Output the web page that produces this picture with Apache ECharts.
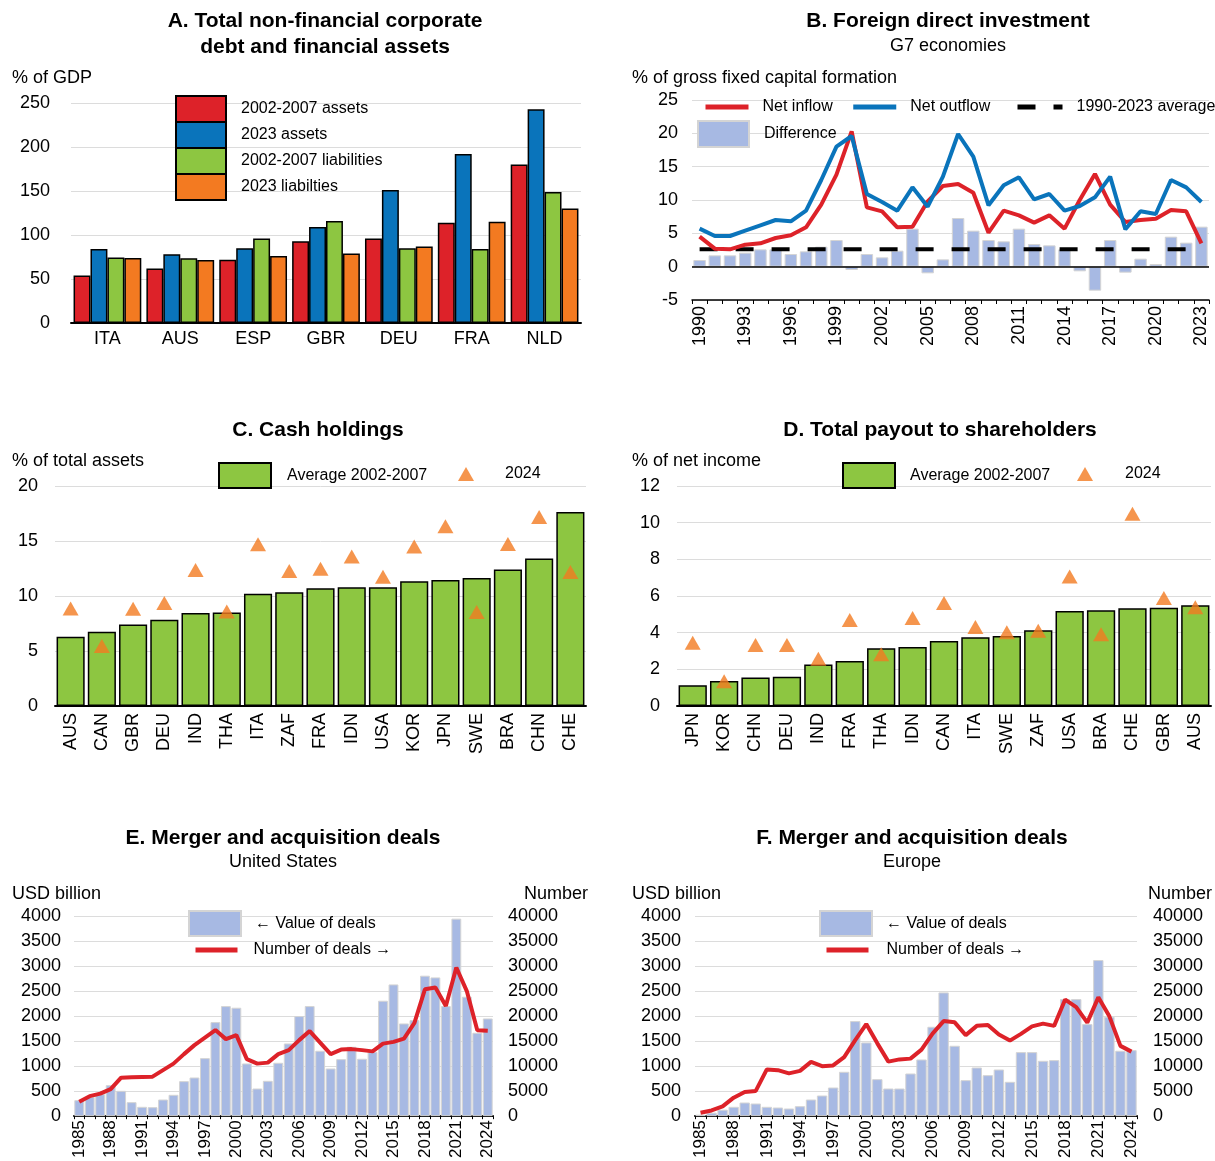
<!DOCTYPE html>
<html>
<head>
<meta charset="utf-8">
<script src="https://cdn.jsdelivr.net/npm/echarts@6/dist/echarts.min.js"></script>
<style>
  html, body { margin: 0; padding: 0; background: #ffffff; }
  #chart { width: 1215px; height: 1161px; }
</style>
</head>
<body>
<div id="chart"></div>
<script>
// ---- Panel A: corporate debt and financial assets (% of GDP) ----
const aCountries = ['ITA', 'AUS', 'ESP', 'GBR', 'DEU', 'FRA', 'NLD'];
const aAssets0207 = [54, 62, 72, 93, 96, 114, 180];
const aAssets2023 = [84, 78, 85, 109, 151, 192, 243];
const aLiab0207 = [74.5, 73.5, 96, 116, 85, 84, 149];
const aLiab2023 = [74, 71.5, 76, 79, 87, 115, 130];

// ---- Panel B: FDI, G7 (% of gross fixed capital formation) ----
const bYears = ['1990', '1991', '1992', '1993', '1994', '1995', '1996', '1997', '1998', '1999',
  '2000', '2001', '2002', '2003', '2004', '2005', '2006', '2007', '2008', '2009',
  '2010', '2011', '2012', '2013', '2014', '2015', '2016', '2017', '2018', '2019',
  '2020', '2021', '2022', '2023'];
const bNetInflow = [4.5, 2.7, 2.6, 3.3, 3.5, 4.3, 4.7, 5.9, 9.3, 13.8,
  20.3, 8.9, 8.3, 5.9, 6.0, 9.8, 12.1, 12.4, 11.1, 5.1,
  8.4, 7.7, 6.6, 7.7, 5.7, 10.0, 13.9, 9.3, 6.7, 7.0,
  7.2, 8.5, 8.3, 3.5];
const bNetOutflow = [5.7, 4.6, 4.6, 5.4, 6.2, 7.0, 6.8, 8.4, 13.0, 18.0,
  19.6, 10.9, 9.7, 8.4, 11.9, 9.0, 13.5, 19.9, 16.5, 9.2,
  12.2, 13.4, 10.1, 10.9, 8.4, 9.1, 10.4, 13.5, 5.6, 8.3,
  7.9, 13.0, 11.9, 9.7];
const bDifference = [1.0, 1.7, 1.7, 2.1, 2.6, 2.6, 1.9, 2.3, 3.0, 4.0,
  -0.5, 1.9, 1.4, 2.4, 5.7, -1.0, 1.1, 7.3, 5.4, 4.0,
  3.8, 5.7, 3.4, 3.2, 2.6, -0.7, -3.6, 4.0, -0.9, 1.2,
  0.4, 4.5, 3.6, 6.0];
const bAverage = 2.6;

// ---- Panel C: cash holdings (% of total assets) ----
const cCountries = ['AUS', 'CAN', 'GBR', 'DEU', 'IND', 'THA', 'ITA', 'ZAF', 'FRA', 'IDN', 'USA', 'KOR', 'JPN', 'SWE', 'BRA', 'CHN', 'CHE'];
const cAvg0207 = [6.3, 6.76, 7.4, 7.85, 8.45, 8.5, 10.2, 10.33, 10.7, 10.8, 10.8, 11.33, 11.45, 11.64, 12.42, 13.42, 17.64];
const c2024 = [8.86, 5.45, 8.85, 9.36, 12.36, 8.58, 14.7, 12.27, 12.48, 13.6, 11.76, 14.5, 16.33, 8.55, 14.73, 17.18, 12.18];

// ---- Panel D: total payout to shareholders (% of net income) ----
const dCountries = ['JPN', 'KOR', 'CHN', 'DEU', 'IND', 'FRA', 'THA', 'IDN', 'CAN', 'ITA', 'SWE', 'ZAF', 'USA', 'BRA', 'CHE', 'GBR', 'AUS'];
const dAvg0207 = [1.13, 1.36, 1.56, 1.6, 2.27, 2.45, 3.15, 3.22, 3.55, 3.75, 3.82, 4.13, 5.18, 5.22, 5.33, 5.36, 5.5];
const d2024 = [3.45, 1.35, 3.33, 3.33, 2.58, 4.69, 2.82, 4.8, 5.62, 4.31, 4.02, 4.11, 7.07, 3.91, 10.49, 5.89, 5.38];

// ---- Panels E and F: M&A deals ----
const maYears = ['1985', '1986', '1987', '1988', '1989', '1990', '1991', '1992', '1993', '1994',
  '1995', '1996', '1997', '1998', '1999', '2000', '2001', '2002', '2003', '2004',
  '2005', '2006', '2007', '2008', '2009', '2010', '2011', '2012', '2013', '2014',
  '2015', '2016', '2017', '2018', '2019', '2020', '2021', '2022', '2023', '2024'];
const usDealValue = [320, 385, 440, 620, 507, 280, 187, 180, 333, 427,
  700, 773, 1160, 1880, 2200, 2167, 1053, 553, 707, 1067,
  1453, 2000, 2200, 1307, 953, 1140, 1387, 1147, 1287, 2307,
  2633, 1853, 1920, 2807, 2773, 2200, 3947, 2387, 1667, 1953];
const usDealCount = [2900, 4000, 4500, 5400, 7700, 7800, 7850, 7900, 9200, 10500,
  12400, 14200, 15700, 17200, 15400, 16200, 11400, 10500, 10700, 12400,
  13200, 15200, 17000, 14700, 12400, 13300, 13400, 13200, 12950, 14500,
  14850, 15500, 18650, 25350, 25700, 22000, 29700, 25000, 17150, 17050];
const euDealValue = [30, 70, 130, 187, 273, 253, 187, 173, 153, 200,
  333, 413, 573, 887, 1900, 1473, 740, 553, 553, 853,
  1133, 1787, 2473, 1407, 720, 973, 820, 933, 687, 1280,
  1280, 1107, 1120, 2340, 2340, 1840, 3120, 1987, 1307, 1320];
const euDealCount = [700, 1150, 1950, 3700, 4850, 5050, 9350, 9200, 8550, 9050,
  10850, 10000, 10150, 11800, 15200, 18400, 14550, 10900, 11350, 11500,
  13300, 16500, 19000, 18750, 16200, 18050, 18200, 16300, 15100, 16450,
  17950, 18500, 18050, 23300, 21800, 18700, 23750, 19950, 14050, 12900];

// ---- styling ----
const FONT = '"Liberation Sans", Arial, Helvetica, sans-serif';
const RED = '#dd2229';
const BLUE = '#0a74bb';
const GREEN = '#8dc641';
const ORANGE = '#f37a21';
const PERIWINKLE = '#a7b9e3';
const GRID_GREY = '#dcdcdc';

function categoryAxis(gridIndex, data, extra) {
  return Object.assign({
    type: 'category',
    gridIndex: gridIndex,
    data: data,
    axisLine: { lineStyle: { color: '#000', width: 2 } },
    axisTick: { show: false },
    axisLabel: { color: '#000', fontSize: 18, fontFamily: FONT, margin: 7, interval: 0 },
    splitLine: { show: false }
  }, extra || {});
}

function valueAxis(gridIndex, min, max, interval, margin, extra) {
  return Object.assign({
    type: 'value',
    gridIndex: gridIndex,
    min: min,
    max: max,
    interval: interval,
    axisLine: { show: false },
    axisTick: { show: false },
    axisLabel: { color: '#000', fontSize: 18, fontFamily: FONT, margin: margin,
      formatter: (v) => String(v) },
    splitLine: { show: true, lineStyle: { color: GRID_GREY, width: 1 } }
  }, extra || {});
}

// legend for a filled box (bars)
function legendBox(names, left, top, w, h, pad, extra) {
  return Object.assign({
    data: names.map((n) => ({ name: n, icon: 'rect' })),
    left: left,
    top: top,
    padding: 0,
    itemWidth: w,
    itemHeight: h,
    itemGap: 18,
    selectedMode: false,
    orient: 'horizontal',
    textStyle: { color: '#000', fontSize: 16, fontFamily: FONT, padding: [0, 0, 0, pad] }
  }, extra || {});
}
// legend for line series: the stroke only, no marker
function legendLine(names, left, top, w, pad, gap) {
  return {
    data: names,
    left: left,
    top: top,
    width: 600,
    padding: 0,
    itemWidth: w,
    itemHeight: 14,
    itemGap: gap,
    selectedMode: false,
    itemStyle: { color: 'rgba(0,0,0,0)', borderColor: 'rgba(0,0,0,0)', borderWidth: 0 },
    lineStyle: { width: 5 },
    textStyle: { color: '#000', fontSize: 16, fontFamily: FONT, padding: [0, 0, 0, pad] }
  };
}
// legend for the scatter triangles
function legendSymbol(name, left, top, pad) {
  return {
    data: [name],
    left: left,
    top: top,
    padding: 0,
    itemWidth: 16,
    itemHeight: 14,
    selectedMode: false,
    textStyle: { color: '#000', fontSize: 16, fontFamily: FONT, padding: [0, 0, 0, pad] }
  };
}

function text(x, y, str, opts) {
  return {
    type: 'text',
    x: x,
    y: y,
    silent: true,
    style: Object.assign({
      text: str,
      fill: '#000',
      fontSize: 18,
      fontFamily: FONT,
      align: 'left',
      verticalAlign: 'middle'
    }, opts || {})
  };
}
const BOLD = { fontWeight: 'bold', fontSize: 21, align: 'center' };

const chart = echarts.init(document.getElementById('chart'), null, { renderer: 'canvas' });

const option = {
  animation: false,
  backgroundColor: '#ffffff',
  textStyle: { fontFamily: FONT },
  graphic: [
    text(325, 21, 'A. Total non-financial corporate', BOLD),
    text(325, 47, 'debt and financial assets', BOLD),
    text(12, 78, '% of GDP'),
    text(948, 21, 'B. Foreign direct investment', BOLD),
    text(948, 46, 'G7 economies', { align: 'center' }),
    text(632, 78, '% of gross fixed capital formation'),
    text(318, 430, 'C. Cash holdings', BOLD),
    text(12, 461, '% of total assets'),
    text(940, 430, 'D. Total payout to shareholders', BOLD),
    text(632, 461, '% of net income'),
    text(283, 838, 'E. Merger and acquisition deals', BOLD),
    text(283, 862, 'United States', { align: 'center' }),
    text(12, 894, 'USD billion'),
    text(588, 894, 'Number', { align: 'right' }),
    text(912, 838, 'F. Merger and acquisition deals', BOLD),
    text(912, 862, 'Europe', { align: 'center' }),
    text(632, 894, 'USD billion'),
    text(1212, 894, 'Number', { align: 'right' })
  ],
  grid: [
    { left: 71, top: 103, width: 510, height: 220 },
    { left: 692, top: 100, width: 517, height: 200 },
    { left: 55, top: 486, width: 531, height: 220 },
    { left: 677, top: 486, width: 534, height: 220 },
    { left: 74, top: 916, width: 419, height: 201 },
    { left: 695, top: 916, width: 442, height: 201 }
  ],
  xAxis: [
    categoryAxis(0, aCountries),
    categoryAxis(1, bYears, {
      axisLine: { onZero: false, lineStyle: { color: '#000', width: 1.5 } },
      axisTick: { show: true, interval: 0, length: 4, lineStyle: { color: '#000', width: 1 } },
      axisLabel: { color: '#000', fontSize: 18, fontFamily: FONT, rotate: 90, interval: 2, margin: 6 }
    }),
    categoryAxis(2, cCountries, {
      axisLabel: { color: '#000', fontSize: 18, fontFamily: FONT, rotate: 90, interval: 0, margin: 7 }
    }),
    categoryAxis(3, dCountries, {
      axisLabel: { color: '#000', fontSize: 18, fontFamily: FONT, rotate: 90, interval: 0, margin: 7 }
    }),
    categoryAxis(4, maYears, {
      axisTick: { show: true, interval: 0, length: 3, lineStyle: { color: '#000', width: 1 } },
      axisLabel: { color: '#000', fontSize: 17, fontFamily: FONT, rotate: 90, interval: 2, margin: 4 }
    }),
    categoryAxis(5, maYears, {
      axisTick: { show: true, interval: 0, length: 3, lineStyle: { color: '#000', width: 1 } },
      axisLabel: { color: '#000', fontSize: 17, fontFamily: FONT, rotate: 90, interval: 2, margin: 4 }
    })
  ],
  yAxis: [
    valueAxis(0, 0, 250, 50, 21),
    valueAxis(1, -5, 25, 5, 14),
    valueAxis(2, 0, 20, 5, 17),
    valueAxis(3, 0, 12, 2, 17),
    valueAxis(4, 0, 4000, 500, 13),
    valueAxis(4, 0, 40000, 5000, 15, { position: 'right', splitLine: { show: false } }),
    valueAxis(5, 0, 4000, 500, 14),
    valueAxis(5, 0, 40000, 5000, 16, { position: 'right', splitLine: { show: false } })
  ],
  legend: [
    legendBox(['2002-2007 assets', '2023 assets', '2002-2007 liabilities', '2023 liabilties'],
      175, 95, 50, 26, 10, { orient: 'vertical', itemGap: -2 }),
    legendLine(['Net inflow', 'Net outflow'], 703, 99, 43, 9, 18),
    legendLine(['1990-2023 average'], 1015, 99, 45, 9, 0),
    legendBox(['Difference'], 697, 120, 51, 26, 10),
    legendBox(['Average 2002-2007'], 218, 462, 52, 25, 11),
    legendSymbol('2024', 458, 466, 26),
    legendBox(['Average 2002-2007'], 842, 462, 52, 25, 10),
    legendSymbol('2024', 1077, 466, 27),
    legendBox(['← Value of deals'], 188, 910, 52, 25, 9),
    legendLine(['Number of deals →'], 193, 942, 42, 11, 0),
    legendBox(['← Value of deals'], 819, 910, 52, 25, 9),
    legendLine(['Number of deals →'], 824, 942, 42, 13, 0)
  ],
  series: [
    // Panel A
    { name: '2002-2007 assets', type: 'bar', xAxisIndex: 0, yAxisIndex: 0, data: aAssets0207,
      barGap: '0%', barCategoryGap: '7%', itemStyle: { color: RED, borderColor: '#000', borderWidth: 1.5 } },
    { name: '2023 assets', type: 'bar', xAxisIndex: 0, yAxisIndex: 0, data: aAssets2023,
      barGap: '0%', barCategoryGap: '7%', itemStyle: { color: BLUE, borderColor: '#000', borderWidth: 1.5 } },
    { name: '2002-2007 liabilities', type: 'bar', xAxisIndex: 0, yAxisIndex: 0, data: aLiab0207,
      barGap: '0%', barCategoryGap: '7%', itemStyle: { color: GREEN, borderColor: '#000', borderWidth: 1.5 } },
    { name: '2023 liabilties', type: 'bar', xAxisIndex: 0, yAxisIndex: 0, data: aLiab2023,
      barGap: '0%', barCategoryGap: '7%', itemStyle: { color: ORANGE, borderColor: '#000', borderWidth: 1.5 } },

    // Panel B
    { name: 'Difference', type: 'bar', xAxisIndex: 1, yAxisIndex: 1, data: bDifference,
      barCategoryGap: '18%', z: 2,
      itemStyle: { color: PERIWINKLE, borderColor: '#d4d4d4', borderWidth: 1 },
      markLine: { silent: true, symbol: 'none', label: { show: false },
        lineStyle: { color: '#000', width: 1.5, type: 'solid' }, data: [{ yAxis: 0 }] } },
    { name: '1990-2023 average', type: 'line', xAxisIndex: 1, yAxisIndex: 1,
      data: bYears.map(() => bAverage), symbol: 'none', z: 3,
      lineStyle: { color: '#000', width: 4, type: [18, 18] }, itemStyle: { color: '#000' } },
    { name: 'Net inflow', type: 'line', xAxisIndex: 1, yAxisIndex: 1, data: bNetInflow,
      symbol: 'none', z: 4, lineStyle: { color: RED, width: 4 }, itemStyle: { color: RED } },
    { name: 'Net outflow', type: 'line', xAxisIndex: 1, yAxisIndex: 1, data: bNetOutflow,
      symbol: 'none', z: 5, lineStyle: { color: BLUE, width: 4 }, itemStyle: { color: BLUE } },

    // Panel C
    { name: 'Average 2002-2007', type: 'bar', xAxisIndex: 2, yAxisIndex: 2, data: cAvg0207,
      barCategoryGap: '10%', itemStyle: { color: GREEN, borderColor: '#000', borderWidth: 1.5 } },
    { name: '2024', type: 'scatter', xAxisIndex: 2, yAxisIndex: 2, data: c2024,
      symbol: 'triangle', symbolSize: [16, 14], z: 3, itemStyle: { color: ORANGE } },

    // Panel D
    { name: 'Average 2002-2007', type: 'bar', xAxisIndex: 3, yAxisIndex: 3, data: dAvg0207,
      barCategoryGap: '10%', itemStyle: { color: GREEN, borderColor: '#000', borderWidth: 1.5 } },
    { name: '2024', type: 'scatter', xAxisIndex: 3, yAxisIndex: 3, data: d2024,
      symbol: 'triangle', symbolSize: [16, 14], z: 3, itemStyle: { color: ORANGE } },

    // Panel E
    { name: '← Value of deals', type: 'bar', xAxisIndex: 4, yAxisIndex: 4, data: usDealValue,
      barCategoryGap: '6%', itemStyle: { color: PERIWINKLE, borderColor: '#d4d4d4', borderWidth: 1 } },
    { name: 'Number of deals →', type: 'line', xAxisIndex: 4, yAxisIndex: 5, data: usDealCount,
      symbol: 'none', z: 4, lineStyle: { color: RED, width: 4 }, itemStyle: { color: RED } },

    // Panel F
    { name: '← Value of deals', type: 'bar', xAxisIndex: 5, yAxisIndex: 6, data: euDealValue,
      barCategoryGap: '6%', itemStyle: { color: PERIWINKLE, borderColor: '#d4d4d4', borderWidth: 1 } },
    { name: 'Number of deals →', type: 'line', xAxisIndex: 5, yAxisIndex: 7, data: euDealCount,
      symbol: 'none', z: 4, lineStyle: { color: RED, width: 4 }, itemStyle: { color: RED } }
  ]
};

chart.setOption(option);
</script>
</body>
</html>
